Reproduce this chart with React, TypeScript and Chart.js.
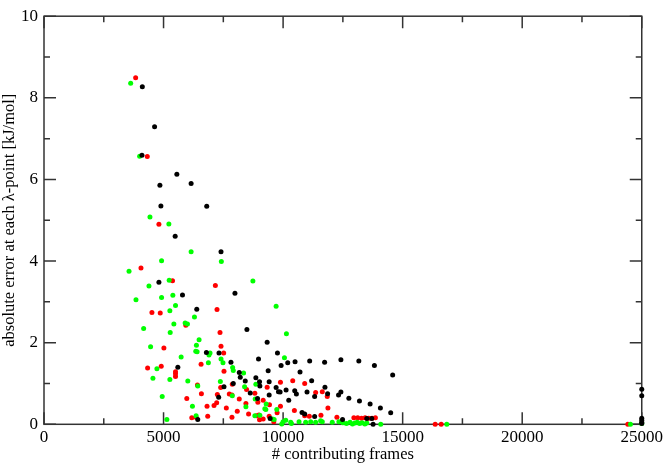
import React, { useEffect, useRef } from "react";
import { Chart, registerables } from "chart.js";

Chart.register(...registerables);

// ---- axis ticks ----
const X_TICKS = [0, 5000, 10000, 15000, 20000, 25000];
const X_MINOR = [2500, 7500, 12500, 17500, 22500];
const Y_TICKS = [0, 2, 4, 6, 8, 10];
const Y_MINOR = [1, 3, 5, 7, 9];

const X_TITLE = "# contributing frames";
const Y_TITLE = "absolute error at each \u03bb-point [kJ/mol]";

// ---- black series ----
const blackX = [
  4112, 4625, 4097, 5556, 4847, 6153, 4889, 6806, 5486, 7403, 4806, 5792, 7986, 6389, 8486, 9333,
  6792, 7319, 9764, 8972, 7819, 9917, 10194, 10500, 11111, 11736, 12417, 13167, 13819, 14583, 10708,
  5597, 8167, 9375, 8208, 8417, 8861, 9417, 9014, 7917, 7528, 9028, 9708, 11194, 11750, 9806, 9875,
  8625, 10125, 10486, 10556, 11000, 11861, 12417, 12319, 11319, 12750, 13194, 13639, 14069, 14500,
  7306, 8931, 10236, 9417, 10792, 10903, 11319, 12486, 13500, 13708, 13764, 9458, 6431,
  25000, 25000, 25000, 25000, 25000, 25000,
];
const blackY = [
  8.27, 7.29, 6.59, 6.13, 5.86, 5.9, 5.35, 5.34, 4.61, 4.23, 3.48, 3.17, 3.21, 2.82, 2.32, 2.01,
  1.76, 1.75, 1.75, 1.6, 1.52, 1.44, 1.51, 1.53, 1.55, 1.52, 1.58, 1.55, 1.44, 1.21, 1.28,
  1.4, 1.27, 1.31, 1.15, 1.06, 1.14, 1.04, 1.04, 1.0, 0.92, 0.94, 0.9, 1.07, 0.91, 0.8, 0.79,
  0.77, 0.84, 0.82, 0.74, 0.79, 0.75, 0.79, 0.72, 0.68, 0.64, 0.57, 0.5, 0.4, 0.28,
  0.66, 0.63, 0.59, 0.72, 0.29, 0.25, 0.19, 0.12, 0.14, 0.14, 0.0, 0.14, 0.12,
  0.86, 0.7, 0.15, 0.1, 0.05, 0.02,
];

// ---- red series ----
const redX = [
  3833, 4320, 4806, 4056, 5375, 7167, 4514, 4861, 7236, 5931, 7361, 5014, 7403, 7514, 6569, 4903,
  4333, 7528, 5500, 5500, 5500, 9889, 10403, 10903, 7875, 6417, 7389, 9333, 8472, 8819, 11361, 11639,
  11847, 6583, 7250, 7750, 7861, 5972, 8167, 9167, 8944, 7222, 8444, 9431, 7111, 6819, 9889, 7625,
  11875, 10472, 8083, 9750, 8556, 8986, 11583, 8889, 10903, 11097, 9417, 6847, 6361, 7861, 12250,
  6181, 9167, 9014, 9611, 12960, 13120, 13280, 13430, 13580, 13720, 13860, 16361, 16611, 24417,
];
const redY = [
  8.49, 6.56, 4.9, 3.83, 3.52, 3.4, 2.74, 2.73, 2.81, 2.43, 2.25, 1.87, 1.91, 1.75, 1.47, 1.42,
  1.38, 1.3, 1.29, 1.24, 1.17, 1.03, 1.07, 1.0, 0.98, 0.96, 0.9, 0.91, 0.85, 0.76, 0.78, 0.8,
  0.68, 0.75, 0.73, 0.74, 0.72, 0.63, 0.62, 0.59, 0.54, 0.53, 0.51, 0.48, 0.46, 0.44, 0.44, 0.4,
  0.4, 0.34, 0.32, 0.28, 0.25, 0.23, 0.22, 0.21, 0.21, 0.2, 0.2, 0.2, 0.17, 0.17, 0.17,
  0.16, 0.13, 0.11, 0.06, 0.16, 0.16, 0.15, 0.16, 0.15, 0.15, 0.16, 0.0, 0.0, 0.0,
];

// ---- green series ----
const greenX = [
  3625, 4000, 4431, 5222, 6153, 4917, 7417, 3556, 5236, 8736, 4389, 3847, 4917, 5389, 5500, 9708,
  5264, 6292, 5431, 5903, 6000, 4167, 5278, 10139, 6486, 6375, 4458, 6347, 6403, 6944, 6900, 5736,
  10056, 7403, 6875, 7486, 7889, 4722, 7917, 8347, 4556, 5264, 6014, 7375, 8861, 6431, 8389, 7875,
  4944, 8833, 9292, 6208, 8444, 9236, 9736, 9278, 8819, 6361, 9028, 5139, 9556, 9625, 10111, 9944,
  10347, 10000, 10319, 10667, 10944, 11153, 11361, 11569, 11639, 12056, 12333, 12500, 12650, 12800,
  12900, 13000, 13100, 13200, 13300, 13420, 13500, 14083, 16847, 24528, 25000,
];
const greenY = [
  8.36, 6.57, 5.08, 4.91, 4.23, 4.01, 3.99, 3.75, 3.53, 3.51, 3.39, 3.05, 3.11, 3.16, 2.91, 2.89,
  2.78, 2.63, 2.46, 2.48, 2.46, 2.35, 2.25, 2.22, 2.07, 1.94, 1.9, 1.79, 1.78, 1.75, 1.7, 1.65,
  1.63, 1.6, 1.51, 1.51, 1.39, 1.36, 1.32, 1.26, 1.13, 1.1, 1.06, 1.05, 0.98, 0.94, 0.92, 0.7,
  0.68, 0.62, 0.5, 0.44, 0.43, 0.38, 0.36, 0.36, 0.21, 0.21, 0.22, 0.12, 0.13, 0.12, 0.1, 0.01,
  0.02, 0.06, 0.05, 0.06, 0.05, 0.06, 0.05, 0.09, 0.06, 0.05, 0.06, 0.04, 0.02, 0.05,
  0.01, 0.03, 0.05, 0.02, 0.04, 0.01, 0.03, 0.0, 0.0, 0.0, 0.02,
];

const zip = (xs: number[], ys: number[]) => xs.map((x, i) => ({ x, y: ys[i] }));

const FONT = "'Liberation Serif', 'Times New Roman', serif";

const framePlugin = {
  id: "frame",
  beforeDatasetsDraw(chart: any) {
    const { ctx, chartArea: a, scales } = chart;
    const xs = scales.x;
    const ys = scales.y;
    ctx.save();
    ctx.strokeStyle = "#333";
    ctx.lineWidth = 1.5;
    ctx.beginPath();
    const vt = (vals: number[], len: number) => {
      for (const v of vals) {
        const p = xs.getPixelForValue(v);
        ctx.moveTo(p, a.bottom);
        ctx.lineTo(p, a.bottom - len);
        ctx.moveTo(p, a.top);
        ctx.lineTo(p, a.top + len);
      }
    };
    const ht = (vals: number[], len: number) => {
      for (const v of vals) {
        const p = ys.getPixelForValue(v);
        ctx.moveTo(a.left, p);
        ctx.lineTo(a.left + len, p);
        ctx.moveTo(a.right, p);
        ctx.lineTo(a.right - len, p);
      }
    };
    vt(X_TICKS, 12);
    vt(X_MINOR, 6);
    ht(Y_TICKS, 12);
    ht(Y_MINOR, 6);
    ctx.stroke();
    ctx.strokeRect(a.left, a.top, a.right - a.left, a.bottom - a.top);
    ctx.restore();
  },
};

export default function App() {
  const ref = useRef<HTMLCanvasElement | null>(null);

  useEffect(() => {
    if (!ref.current) return;
    const mk = (label: string, xs: number[], ys: number[], color: string, order: number) => ({
      label,
      data: zip(xs, ys),
      backgroundColor: color,
      borderColor: color,
      pointRadius: 2.5,
      pointBorderWidth: 0,
      pointHoverRadius: 2.5,
      clip: false as any,
      order,
    });
    const chart = new Chart(ref.current, {
      type: "scatter",
      data: {
        datasets: [
          mk("black", blackX, blackY, "#000000", 0),
          mk("green", greenX, greenY, "#00ff00", 1),
          mk("red", redX, redY, "#ff0000", 2),
        ],
      },
      options: {
        animation: false,
        responsive: false,
        devicePixelRatio: 1,
        layout: { padding: { left: 0, right: 22, top: 4.3, bottom: 0 } },
        plugins: { legend: { display: false }, tooltip: { enabled: false } },
        scales: {
          x: {
            type: "linear",
            min: 0,
            max: 25000,
            grid: { display: false, drawTicks: false },
            border: { display: false },
            afterBuildTicks: (s: any) => {
              s.ticks = X_TICKS.map((v) => ({ value: v }));
            },
            afterFit: (s: any) => {
              s.height = 40.7;
            },
            ticks: {
              padding: 3,
              color: "#000",
              font: { family: FONT, size: 17 },
              maxRotation: 0,
              callback: (v: any) => String(v),
            },
            title: {
              display: true,
              text: X_TITLE,
              color: "#000",
              font: { family: FONT, size: 16.5 },
              padding: { top: 0, bottom: 0 },
            },
          },
          y: {
            type: "linear",
            min: 0,
            max: 10,
            grid: { display: false, drawTicks: false },
            border: { display: false },
            afterBuildTicks: (s: any) => {
              s.ticks = Y_TICKS.map((v) => ({ value: v }));
            },
            afterFit: (s: any) => {
              s.width = 44;
            },
            ticks: {
              padding: 6,
              color: "#000",
              font: { family: FONT, size: 17 },
              callback: (v: any) => String(v),
            },
            title: {
              display: true,
              text: Y_TITLE,
              color: "#000",
              font: { family: FONT, size: 16.5 },
              padding: { top: 0, bottom: 0 },
            },
          },
        },
      },
      plugins: [framePlugin],
    });
    return () => chart.destroy();
  }, []);

  return (
    <div style={{ position: "absolute", left: 0, top: 0, width: 666, height: 465, background: "#fff" }}>
      <canvas ref={ref} width={666} height={465} style={{ display: "block" }} />
    </div>
  );
}
